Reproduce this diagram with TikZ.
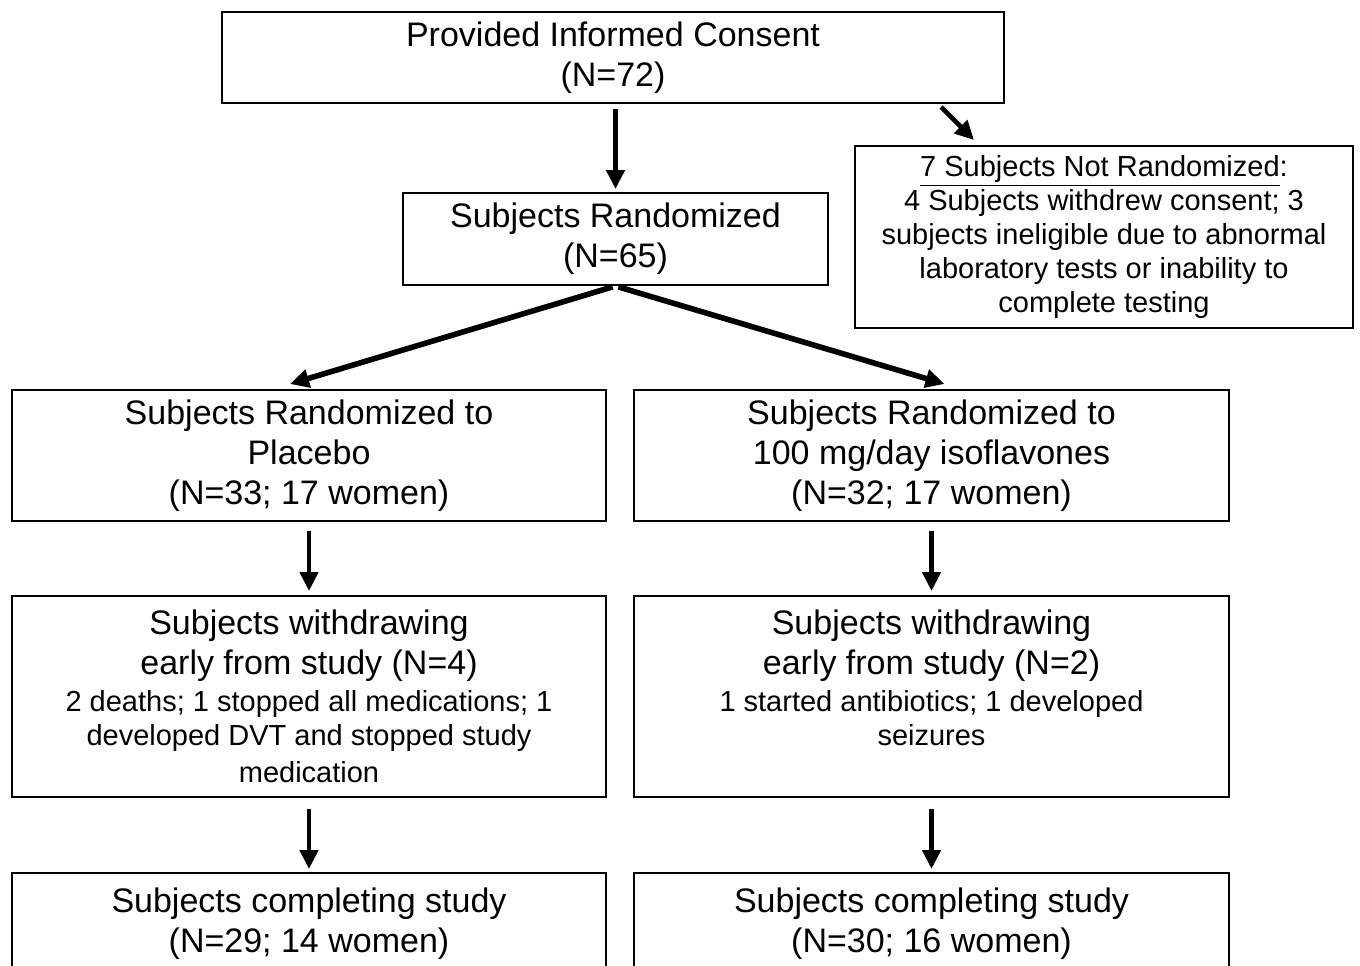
\documentclass[tikz,border=0pt]{standalone}
\usepackage{fontspec}
\setmainfont{Liberation Sans}
\usetikzlibrary{arrows.meta, positioning, calc}

\begin{document}
\begin{tikzpicture}[
    x=0.5pt, y=-0.5pt,
    box/.style={draw, line width=1pt, inner sep=0pt, align=flush center,
        font=\fontsize{17}{20}\selectfont},
    note/.style={box, font=\fontsize{14.5}{17}\selectfont},
    flow/.style={line width=2.3pt, -{Triangle[length=9.5pt, width=9pt]}},
]
\useasboundingbox (0,0) rectangle (1360,965);
\clip (0,0) rectangle (1360,965);
\def\smalltxt{\par\vspace{1.5pt}\fontsize{14.5}{17}\selectfont}

% ---------------- enrolment
\node[box, text width=391pt, minimum height=45.5pt] (consent) at (613,57.5)
    {Provided Informed Consent\\(N=72)};
\node[note, text width=249pt, minimum height=91pt] (notrand) at (1104,237)
    {\underline{7 Subjects Not Randomized}:\\4 Subjects withdrew consent; 3\\subjects ineligible due to abnormal\\laboratory tests or inability to\\complete testing};
\node[box, text width=212.5pt, minimum height=46pt] (rand) at (615.5,239)
    {Subjects Randomized\\(N=65)};

% ---------------- the two arms
\node[box, text width=297pt, minimum height=65.5pt] (placebo) at (309,455.5)
    {Subjects Randomized to\\Placebo\\(N=33; 17 women)};
\node[box, text width=297.5pt, minimum height=65.5pt] (iso) at (931.5,455.5)
    {Subjects Randomized to\\100 mg/day isoflavones\\(N=32; 17 women)};

\node[box, text width=297pt, minimum height=100.5pt] (dropL) at (309,696.5)
    {Subjects withdrawing\\early from study (N=4)\smalltxt 2 deaths; 1 stopped all medications; 1\\developed DVT and stopped study\\[-1.5pt]medication};
\node[box, text width=297.5pt, minimum height=100.5pt] (dropR) at (931.5,696.5)
    {Subjects withdrawing\\early from study (N=2)\smalltxt 1 started antibiotics; 1 developed\\seizures\\[-1.5pt]\phantom{medication}};

\node[box, text width=297pt, minimum height=51pt] (doneL) at (309,924)
    {Subjects completing study\\(N=29; 14 women)};
\node[box, text width=297.5pt, minimum height=51pt] (doneR) at (931.5,924)
    {Subjects completing study\\(N=30; 16 women)};

% ---------------- arrows
\draw[flow, shorten <=2.5pt, shorten >=1.5pt] (consent.south -| rand.north) -- (rand.north);
\draw[flow] ($(consent.south east)+(-64,3)$) -- ($(notrand.north west)+(120,-5)$);
\draw[flow, line width=2.8pt, shorten <=1.5pt] (rand.south) -- ($(placebo.north)+(-19,-5)$);
\draw[flow, line width=2.8pt, shorten <=1.5pt] (rand.south) -- ($(iso.north)+(13,-5)$);
\foreach \a/\b in {placebo/dropL, iso/dropR}
    \draw[flow, shorten <=4.5pt, shorten >=2pt] (\a.south) -- (\b.north);
\foreach \a/\b in {dropL/doneL, dropR/doneR}
    \draw[flow, shorten <=5.5pt, shorten >=1.5pt] (\a.south) -- (\b.north);
\end{tikzpicture}
\end{document}
